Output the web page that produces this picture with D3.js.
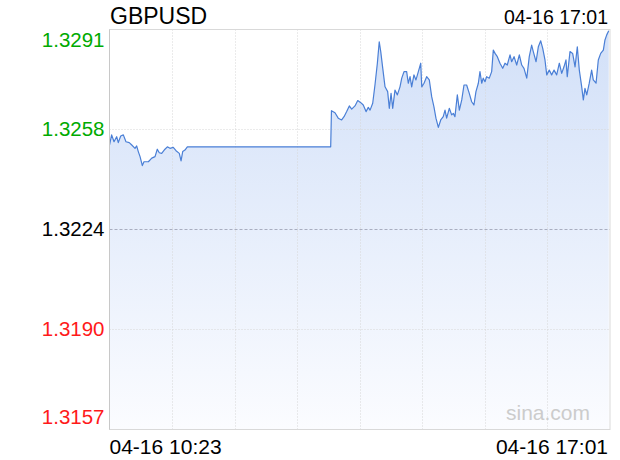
<!DOCTYPE html>
<html>
<head>
<meta charset="utf-8">
<script src="https://cdn.jsdelivr.net/npm/d3@7"></script>
<style>
html,body{margin:0;padding:0;background:#fff;}
svg{display:block;}
text{font-family:"Liberation Sans",Arial,Helvetica,sans-serif;}
</style>
</head>
<body>
<svg id="chart" width="620" height="460"></svg>
<script>
// ---- data ----
const title = "GBPUSD";
const stamp = "04-16 17:01";
const xLabels = ["04-16 10:23", "04-16 17:01"];
const prevClose = 1.3224;
const yTickValues = [1.3291, 1.32575, 1.3224, 1.31905, 1.3157];
const yTickLabels = ["1.3291", "1.3258", "1.3224", "1.3190", "1.3157"];
const sessionMinutes = 398; // 10:23 -> 17:01
// minutes elapsed since 10:23
const minutes = [
  0, 1.7, 3.6, 5.7, 7.0, 8.9, 11.0, 13.1, 15.7, 17.7, 20.3, 21.6, 22.9, 24.3, 26.1, 27.4,
  30.9, 33.6, 36.2, 38.0, 39.6, 41.5, 44.1, 46.0, 48.1, 50.7, 52.9, 55.5, 56.9, 58.2, 60.0,
  61.9, 175.9, 176.5,
  179.3, 181.9, 184.6, 186.5, 188.6, 190.7, 192.6, 195.2, 197.4, 199.8, 201.8, 204.0, 205.8,
  207.2, 209.3, 211.1, 213.0, 214.5, 215.7, 217.3, 219.1, 221.2, 222.5, 223.9, 225.2, 227.0,
  228.9, 231.0, 232.4, 234.2, 236.3, 237.6, 239.0, 240.3, 242.1, 243.7, 245.6, 247.5, 248.3,
  250.1, 252.2, 254.3, 256.2, 258.0, 259.6, 261.5, 263.4, 265.4, 266.8, 268.1, 270.2, 272.1,
  273.4, 274.7, 276.6, 278.2, 280.1, 281.9, 284.0, 286.1, 288.0, 289.8, 291.4, 293.3, 294.6,
  296.0, 297.2, 298.6, 299.9, 302.0, 303.9, 305.2, 306.6, 308.4, 310.5, 312.7, 314.5, 316.3,
  318.5, 319.8, 321.7, 323.8, 325.9, 327.8, 329.6, 331.8, 333.8, 335.7, 337.0, 339.2, 341.0,
  342.9, 344.5, 346.3, 347.7, 349.7, 351.6, 353.5, 355.6, 357.7, 359.6, 361.4, 363.0, 364.0,
  366.2, 368.3, 370.2, 372.0, 373.6, 375.5, 376.8, 378.1, 379.5, 381.5, 383.4, 384.7, 386.9,
  388.7, 390.6, 392.7, 394.0, 395.4, 397.0
];
const prices = [
  1.32523, 1.32557, 1.32534, 1.32551, 1.32531, 1.32553, 1.32557, 1.32534, 1.32531, 1.32523,
  1.32512, 1.32520, 1.32501, 1.32484, 1.32454, 1.32467,
  1.32467, 1.32479, 1.32484, 1.32509, 1.32497, 1.32495, 1.32509, 1.32517, 1.32512, 1.32515,
  1.32504, 1.32495, 1.32470, 1.32501, 1.32506,
  1.32517, 1.32517, 1.32638,
  1.32631, 1.32613, 1.32607, 1.32618, 1.32635, 1.32654, 1.32643, 1.32654, 1.32672, 1.32665,
  1.32657, 1.32635, 1.32649,
  1.32640, 1.32663, 1.32724, 1.32797, 1.32869, 1.32836, 1.32780, 1.32718, 1.32702, 1.32646,
  1.32696, 1.32646, 1.32707,
  1.32691, 1.32718, 1.32747, 1.32769, 1.32769, 1.32730, 1.32752, 1.32718, 1.32758, 1.32741,
  1.32769, 1.32797, 1.32718,
  1.32730, 1.32752, 1.32741, 1.32685, 1.32651, 1.32613, 1.32582, 1.32607, 1.32618, 1.32640,
  1.32613, 1.32646, 1.32624,
  1.32629, 1.32618, 1.32691, 1.32640, 1.32674, 1.32724, 1.32724, 1.32696, 1.32668, 1.32657,
  1.32702, 1.32730, 1.32769,
  1.32730, 1.32747, 1.32735, 1.32752, 1.32747, 1.32769, 1.32841, 1.32830, 1.32819, 1.32797,
  1.32780, 1.32797, 1.32791,
  1.32825, 1.32802, 1.32819, 1.32791, 1.32825, 1.32791, 1.32780, 1.32747, 1.32819, 1.32858,
  1.32836, 1.32802, 1.32852,
  1.32872, 1.32847, 1.32808, 1.32758, 1.32774, 1.32758, 1.32774, 1.32758, 1.32797, 1.32763,
  1.32785, 1.32808, 1.32752,
  1.32836, 1.32830, 1.32785, 1.32852, 1.32774, 1.32718, 1.32674, 1.32713, 1.32691, 1.32730,
  1.32774, 1.32741, 1.32730,
  1.32808, 1.32830, 1.32841, 1.32875, 1.32892, 1.32906
];

// ---- layout ----
const L = 109.5, R = 610, T = 29.5, B = 429.5;
const svg = d3.select("#chart");
const x = d3.scaleLinear().domain([0, sessionMinutes]).range([L, R]);
const y = d3.scaleLinear().domain([yTickValues[4], yTickValues[0]]).range([B, T]);
const data = minutes.map((m, i) => ({m, p: prices[i]}));

// gradient
const defs = svg.append("defs");
const grad = defs.append("linearGradient").attr("id", "fillGrad")
  .attr("gradientUnits", "userSpaceOnUse").attr("x1", 0).attr("y1", T).attr("x2", 0).attr("y2", B);
grad.append("stop").attr("offset", "0%").attr("stop-color", "#d2e0f8");
grad.append("stop").attr("offset", "100%").attr("stop-color", "#fbfcff");

// area
svg.append("path").datum(data)
  .attr("fill", "url(#fillGrad)")
  .attr("d", d3.area().x(d => x(d.m)).y0(B).y1(d => y(d.p)));

// vertical grid
const vTicks = d3.range(1, 8).map(i => i * sessionMinutes / 8);
svg.append("g").selectAll("line").data(vTicks).join("line")
  .attr("x1", d => Math.round(x(d)) + 0.5).attr("x2", d => Math.round(x(d)) + 0.5)
  .attr("y1", T).attr("y2", B)
  .attr("stroke", "#d6d6d6").attr("stroke-width", 1).attr("stroke-dasharray", "1,2");

// horizontal grid
svg.append("g").selectAll("line").data(yTickValues.slice(1, 4)).join("line")
  .attr("x1", L).attr("x2", R)
  .attr("y1", d => Math.round(y(d)) - 0.5).attr("y2", d => Math.round(y(d)) - 0.5)
  .attr("stroke", d => d === prevClose ? "#a9aec0" : "#d6d6d6")
  .attr("stroke-width", 1)
  .attr("stroke-dasharray", d => d === prevClose ? "3,2" : "1,2");

// line
svg.append("path").datum(data)
  .attr("fill", "none").attr("stroke", "#4a7fd6").attr("stroke-width", 1.2)
  .attr("stroke-linejoin", "round")
  .attr("d", d3.line().x(d => x(d.m)).y(d => y(d.p)));

// frame
svg.append("rect").attr("x", L).attr("y", T).attr("width", R - L).attr("height", B - T)
  .attr("fill", "none").attr("stroke", "#d9d9d9").attr("stroke-width", 1);
svg.append("line").attr("x1", L).attr("x2", L).attr("y1", T).attr("y2", B)
  .attr("stroke", "#c8c8c8");

// y labels
svg.append("g").selectAll("text").data(yTickValues).join("text")
  .attr("x", 104.5)
  .attr("y", (d, i) => i === 0 ? y(d) + 17.2 : (i === 4 ? y(d) - 6 : y(d) + 6.5))
  .attr("text-anchor", "end")
  .attr("font-size", "20.5px")
  .attr("fill", d => d > prevClose ? "#00aa00" : (d < prevClose ? "#ff1a1a" : "#000"))
  .text((d, i) => yTickLabels[i]);

// title & stamp
svg.append("text").attr("x", 110).attr("y", 24).attr("font-size", "23px").attr("fill", "#000").text(title);
svg.append("text").attr("x", 608).attr("y", 23.5).attr("text-anchor", "end").attr("font-size", "19.5px").attr("fill", "#000").text(stamp);

// x labels
svg.append("text").attr("x", x(0)).attr("y", 453.5).attr("font-size", "21px").attr("fill", "#000").text(xLabels[0]);
svg.append("text").attr("x", 608).attr("y", 453.5).attr("text-anchor", "end").attr("font-size", "21px").attr("fill", "#000").text(xLabels[1]);

// watermark
svg.append("text").attr("x", 590).attr("y", 420).attr("text-anchor", "end").attr("font-size", "21px").attr("fill", "#cccccc").text("sina.com");
</script>
</body>
</html>
